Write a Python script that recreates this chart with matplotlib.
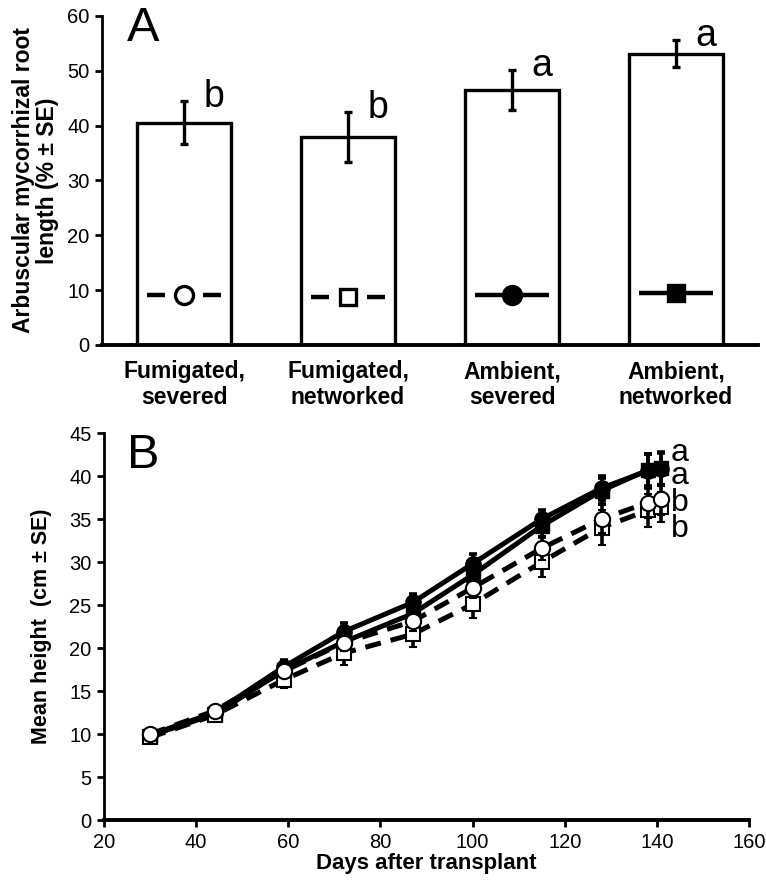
import numpy as np
import matplotlib
matplotlib.use("Agg")
import matplotlib.pyplot as plt

plt.rcParams["font.family"] = ["Liberation Sans", "DejaVu Sans"]

# ── Panel A data: AM colonization ───────────────────────────
treatments = ["Fumigated,\nsevered", "Fumigated,\nnetworked",
              "Ambient,\nsevered", "Ambient,\nnetworked"]
am_mean = [40.5, 37.9, 46.5, 53.1]
am_se = [3.9, 4.5, 3.6, 2.5]
am_letters = ["b", "b", "a", "a"]

# ── Panel B data: plant height over time ────────────────────
days = [30, 44, 59, 72, 87, 100, 115, 128, 138, 141]
h_fum_sev = [10.0, 12.7, 17.3, 20.6, 23.1, 27.0, 31.6, 35.0, 36.9, 37.3]
h_fum_net = [9.6, 12.2, 16.3, 19.4, 21.6, 25.1, 30.0, 34.0, 36.0, 36.4]
h_amb_sev = [9.9, 12.5, 17.8, 21.9, 25.3, 29.8, 35.0, 38.6, 40.6, 40.8]
h_amb_net = [9.8, 12.3, 17.4, 20.7, 24.0, 28.5, 34.2, 38.3, 40.7, 40.9]
se_fum_sev = [0.4, 0.5, 0.8, 1.0, 1.1, 1.2, 1.4, 1.6, 1.8, 1.8]
se_fum_net = [0.4, 0.5, 0.9, 1.4, 1.5, 1.6, 1.7, 2.0, 1.9, 1.8]
se_amb_sev = [0.4, 0.5, 0.8, 1.0, 1.0, 1.1, 1.1, 1.4, 2.0, 1.9]
se_amb_net = [0.4, 0.5, 0.8, 1.0, 1.1, 1.2, 1.3, 1.5, 1.9, 1.9]
end_letters = ["a", "a", "b", "b"]
end_letter_y = [41.8, 39.1, 35.9, 32.9]

fig = plt.figure(figsize=(7.66, 8.85), dpi=100)

# ── Panel A ─────────────────────────────────────────────────
axA = fig.add_axes([0.1332, 0.6102, 0.8564, 0.3718])
x = np.arange(len(treatments))
axA.bar(x, am_mean, width=0.57, color="white", edgecolor="black", linewidth=2.4, zorder=2)
axA.errorbar(x, am_mean, yerr=am_se, fmt="none", ecolor="black",
             elinewidth=2.4, capsize=3, capthick=2.4, zorder=3)
for xi, m, s, lab in zip(x, am_mean, am_se, am_letters):
    axA.text(xi + 0.18, m + s - 1.0, lab, fontsize=27, ha="center", va="baseline")

# symbol keys inside bars
sym_y = [9.2, 8.8, 9.2, 9.5]
sym_marker = ["o", "s", "o", "s"]
sym_fill = ["white", "white", "black", "black"]
sym_dashed = [True, True, False, False]
for xi, yy, mk, fc, dsh in zip(x, sym_y, sym_marker, sym_fill, sym_dashed):
    if dsh:
        axA.plot([xi - 0.225, xi - 0.115], [yy, yy], color="black", lw=3.2, solid_capstyle="butt")
        axA.plot([xi + 0.115, xi + 0.225], [yy, yy], color="black", lw=3.2, solid_capstyle="butt")
    else:
        axA.plot([xi - 0.225, xi + 0.225], [yy, yy], color="black", lw=3.2, solid_capstyle="butt")
    axA.plot([xi], [yy], marker=mk, ms=13 if mk == "o" else 12, mfc=fc, mec="black", mew=2.4)

axA.set_xlim(-0.5, 3.5)
axA.set_ylim(0, 60)
axA.set_yticks(range(0, 61, 10))
axA.set_xticks(x)
axA.set_xticklabels(treatments, fontsize=16.5, fontweight="bold", linespacing=1.15)
axA.tick_params(axis="x", length=0, pad=11)
axA.tick_params(axis="y", direction="out", length=5, width=2, labelsize=14.5, pad=4)
axA.spines["top"].set_visible(False)
axA.spines["right"].set_visible(False)
axA.spines["left"].set_linewidth(2)
axA.spines["bottom"].set_linewidth(2.8)
axA.set_ylabel("Arbuscular mycorrhizal root\nlength (% ± SE)", fontsize=16.5,
               fontweight="bold", labelpad=6, linespacing=1.05)
axA.text(0.038, 1.03, "A", transform=axA.transAxes, fontsize=35, va="top", ha="left")

# ── Panel B ─────────────────────────────────────────────────
axB = fig.add_axes([0.1358, 0.0734, 0.842, 0.4373])
eb_kw = dict(ecolor="black", elinewidth=2.6, capsize=3, capthick=2.6)
dash = (0, (3.2, 2.0))
axB.errorbar(days, h_amb_net, yerr=se_amb_net, color="black", lw=3.6, ls="-",
             marker="s", ms=10, mfc="black", mec="black", zorder=2, **eb_kw)
axB.errorbar(days, h_amb_sev, yerr=se_amb_sev, color="black", lw=3.6, ls="-",
             marker="o", ms=11, mfc="black", mec="black", zorder=2, **eb_kw)
axB.errorbar(days, h_fum_net, yerr=se_fum_net, color="black", lw=3.6, ls=dash,
             marker="s", ms=10, mfc="white", mec="black", mew=1.5, zorder=3, **eb_kw)
axB.errorbar(days, h_fum_sev, yerr=se_fum_sev, color="black", lw=3.6, ls=dash,
             marker="o", ms=11, mfc="white", mec="black", mew=1.5, zorder=4, **eb_kw)
for lab, yy in zip(end_letters, end_letter_y):
    axB.text(145, yy, lab, fontsize=23, ha="center", va="baseline")

axB.set_xlim(20, 160)
axB.set_ylim(0, 45)
axB.set_xticks(range(20, 161, 20))
axB.set_yticks(range(0, 46, 5))
axB.tick_params(direction="out", length=5, width=2, labelsize=14.5, pad=4)
axB.spines["top"].set_visible(False)
axB.spines["right"].set_visible(False)
axB.spines["left"].set_linewidth(2)
axB.spines["bottom"].set_linewidth(2.8)
axB.set_ylabel("Mean height  (cm ± SE)", fontsize=15.5, fontweight="bold", labelpad=12)
axB.set_xlabel("Days after transplant", fontsize=16, fontweight="bold", labelpad=1)
axB.text(0.035, 1.0, "B", transform=axB.transAxes, fontsize=35, va="top", ha="left")

fig.savefig("out.png", dpi=100)
